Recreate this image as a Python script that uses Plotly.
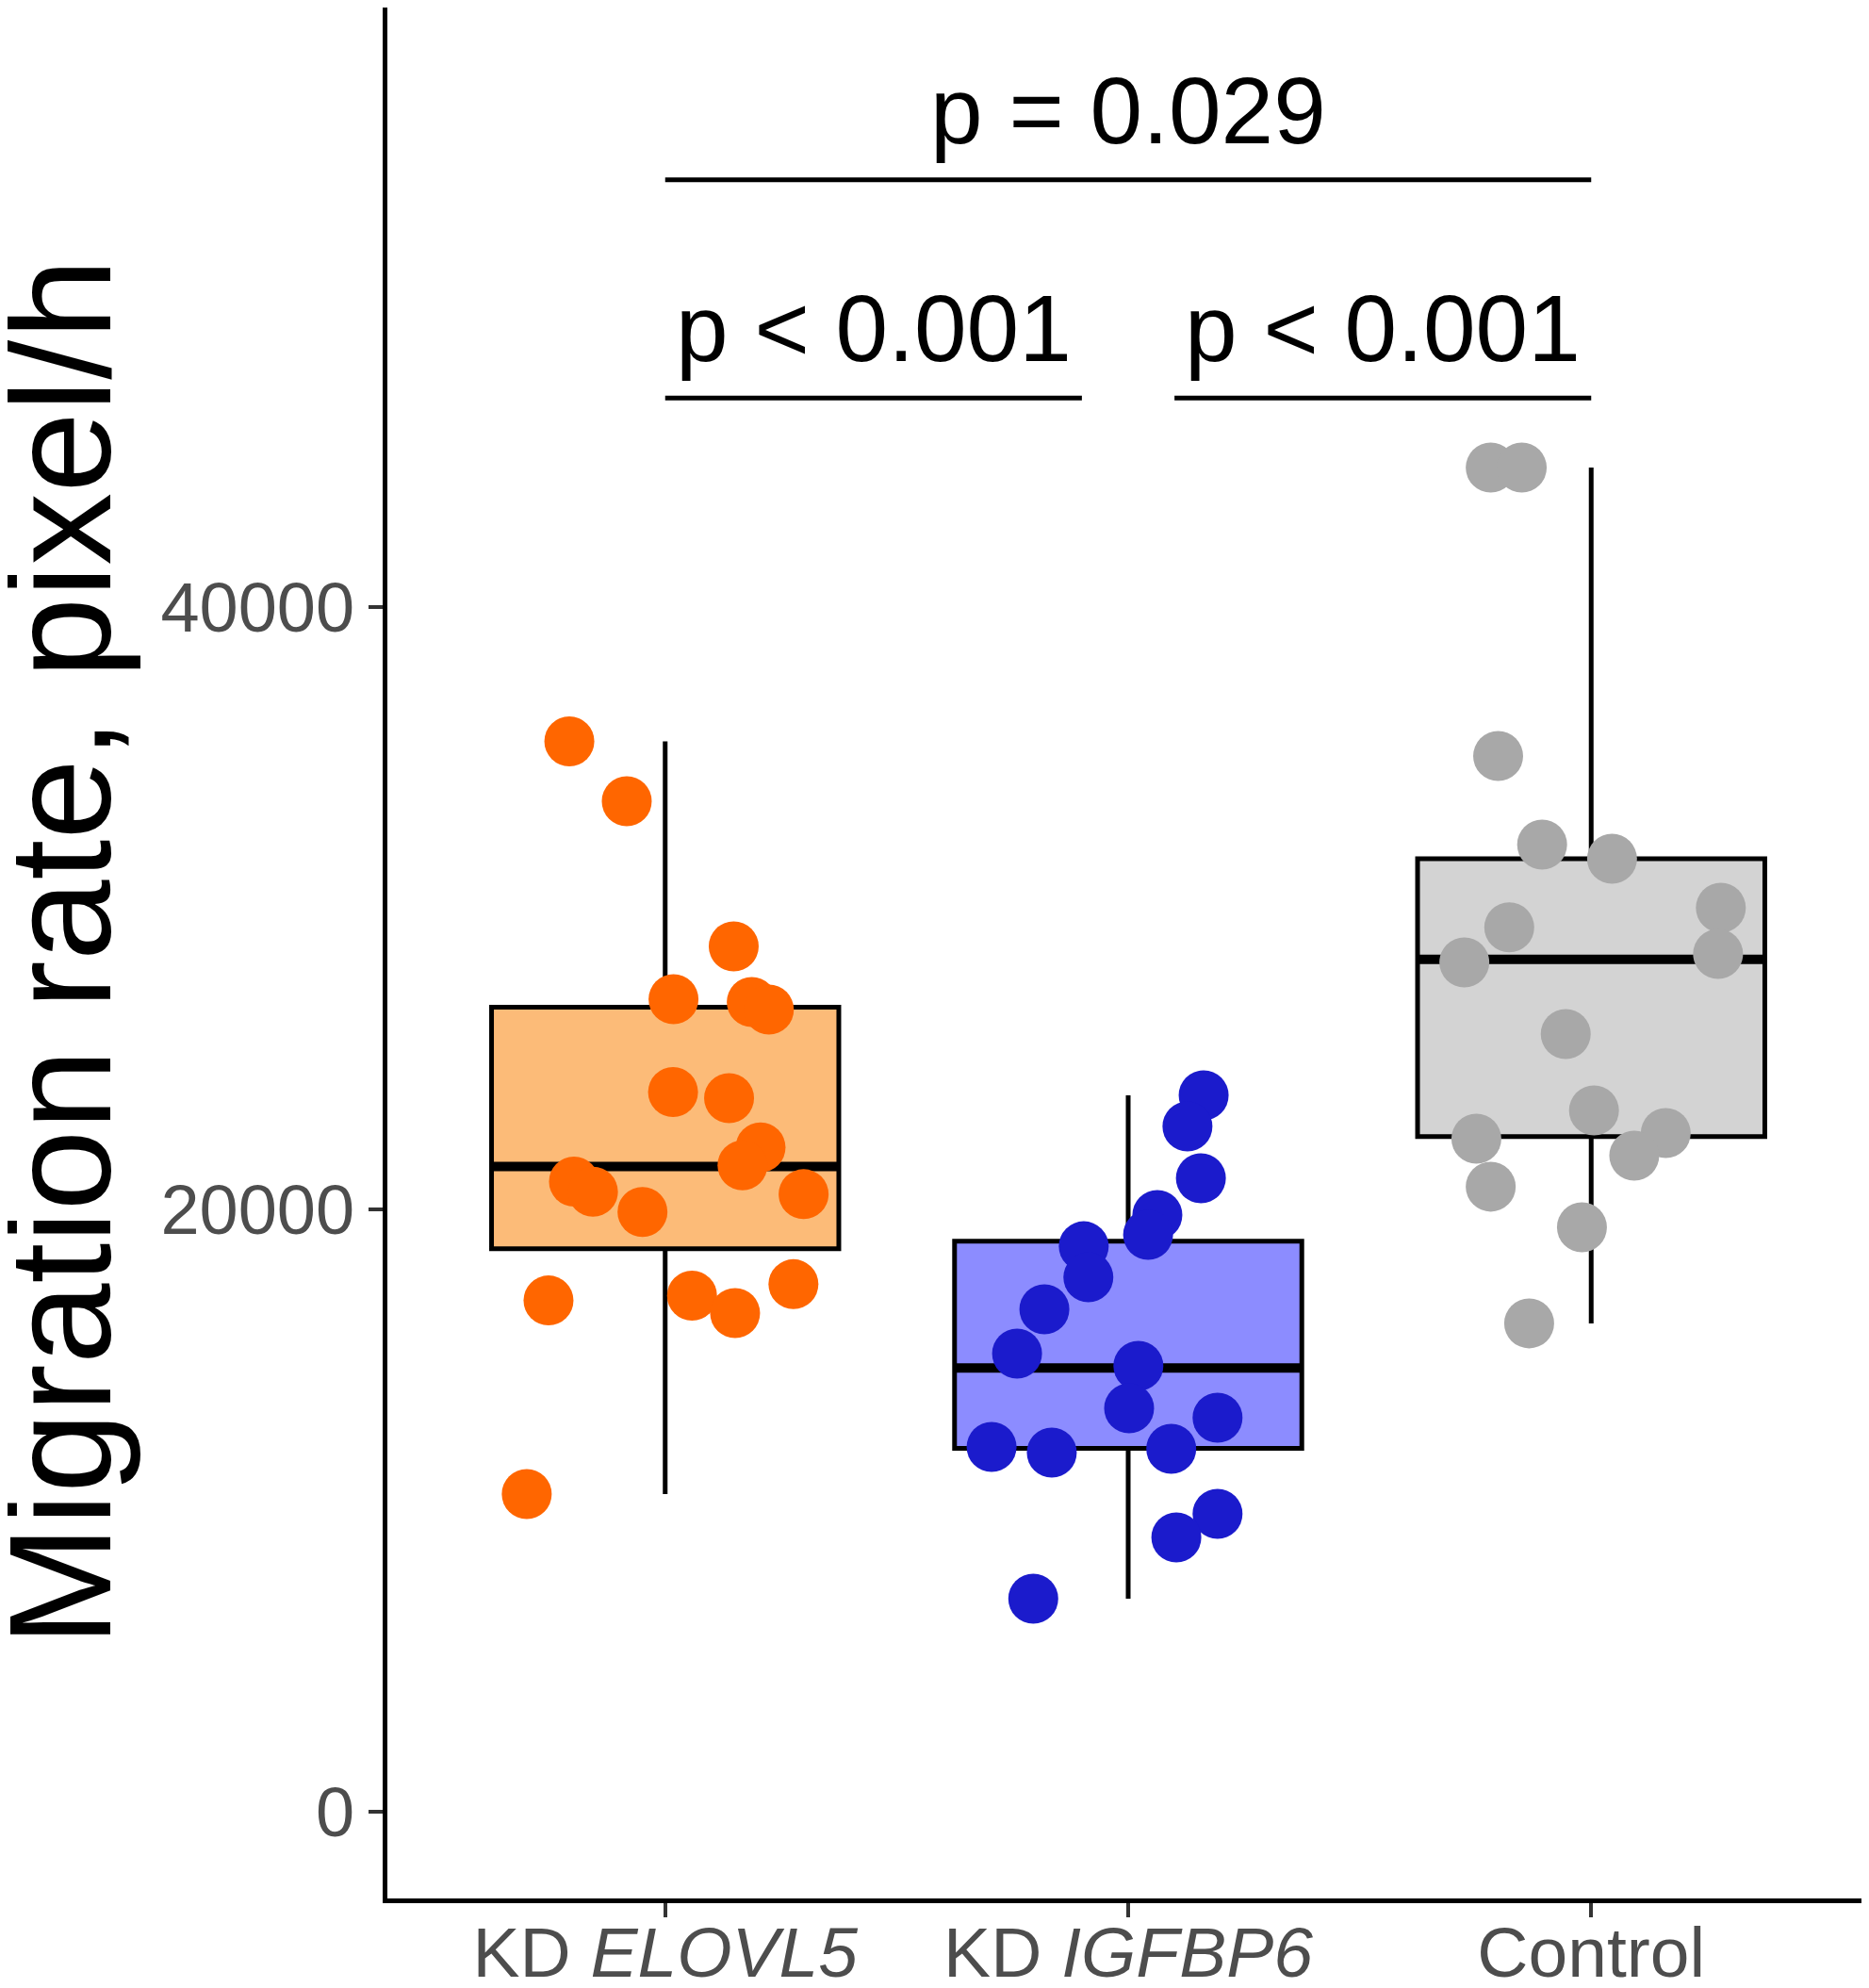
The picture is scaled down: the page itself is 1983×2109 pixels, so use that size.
import plotly.graph_objects as go

# 分组名称（x轴刻度标签）
groups = ["KD <i>ELOVL5</i>", "KD <i>IGFBP6</i>", "Control"]

# 各组散点数值及抖动偏移
elovl5_vals = [35550, 33560, 28740, 26985, 26890, 26640, 23900, 23700, 22060, 21470,
               20930, 20590, 19920, 20510, 16980, 17140, 16560, 17520, 10550]
elovl5_jit = [-0.207, -0.083, 0.148, 0.018, 0.187, 0.224, 0.017, 0.138, 0.206, 0.167,
              -0.197, -0.156, -0.049, 0.299, -0.252, 0.058, 0.151, 0.277, -0.299]

igfbp6_vals = [23793, 22760, 21040, 19817, 19160, 18780, 17750, 16686, 15215, 14808,
               13399, 13086, 12115, 11928, 12053, 9893, 9110, 7075]
igfbp6_jit = [0.163, 0.128, 0.157, 0.063, 0.043, -0.096, -0.086, -0.181, -0.240, 0.022,
              0.002, 0.193, -0.295, -0.165, 0.093, 0.193, 0.104, -0.205]

control_vals = [44640, 44640, 35060, 32120, 31650, 29370, 30020, 28210, 28490, 25830,
                23290, 22350, 22540, 21790, 20760, 19410, 16220]
control_jit = [-0.217, -0.150, -0.201, -0.106, 0.045, -0.177, 0.280, -0.274, 0.274, -0.055,
               0.006, -0.248, 0.161, 0.093, -0.217, -0.020, -0.134]

# 箱线图统计量
box_q1 = [18700, 12070, 22420]
box_median = [21430, 14740, 28310]
box_q3 = [26720, 18950, 31650]
box_low = [10550, 7075, 16220]
box_high = [35550, 23793, 44640]

# 显著性标注
sig_x0 = [0, 1.1, 0]
sig_x1 = [0.9, 2, 2]
sig_y = [46950, 46950, 54200]
sig_text = ["p < 0.001", "p < 0.001", "p = 0.029"]

point_colors = ["#FF6600", "#1B1BCC", "#A8A8A8"]
fill_colors = ["#FCBB78", "#8C8CFF", "#D3D3D3"]

FONT = "Liberation Sans, Arial, sans-serif"
BOX_W = 0.75

fig = go.Figure()

all_vals = [elovl5_vals, igfbp6_vals, control_vals]
all_jit = [elovl5_jit, igfbp6_jit, control_jit]

for i in range(3):
    # 箱体
    fig.add_trace(go.Box(
        x=[i], q1=[box_q1[i]], median=[box_median[i]], q3=[box_q3[i]],
        lowerfence=[box_low[i]], upperfence=[box_high[i]],
        width=BOX_W, whiskerwidth=0,
        fillcolor=fill_colors[i],
        line=dict(color="black", width=5),
        boxpoints=False, showlegend=False, hoverinfo="skip"
    ))
    # 加粗中位线
    fig.add_trace(go.Scatter(
        x=[i - BOX_W / 2, i + BOX_W / 2], y=[box_median[i], box_median[i]],
        mode="lines", line=dict(color="black", width=10),
        showlegend=False, hoverinfo="skip"
    ))

for i in range(3):
    # 抖动散点
    fig.add_trace(go.Scatter(
        x=[i + j for j in all_jit[i]], y=all_vals[i],
        mode="markers",
        marker=dict(color=point_colors[i], size=53, line=dict(width=0)),
        showlegend=False
    ))

# 显著性横线和文字
for k in range(len(sig_text)):
    fig.add_shape(type="line", xref="x", yref="y",
                  x0=sig_x0[k], x1=sig_x1[k], y0=sig_y[k], y1=sig_y[k],
                  line=dict(color="black", width=5))
    fig.add_annotation(x=(sig_x0[k] + sig_x1[k]) / 2, y=sig_y[k], xref="x", yref="y",
                       text=sig_text[k], showarrow=False, yanchor="bottom", yshift=16,
                       font=dict(family=FONT, size=100, color="black"))

# y轴标题
fig.add_annotation(x=-0.221, y=0.5, xref="paper", yref="paper",
                   text="Migration rate, pixel/h", textangle=-90, showarrow=False,
                   xanchor="center", yanchor="middle",
                   font=dict(family=FONT, size=154, color="black"))

fig.update_layout(
    width=1983, height=2109,
    margin=dict(l=403, r=8, t=0, b=103),
    paper_bgcolor="white", plot_bgcolor="white",
    boxmode="overlay",
    font=dict(family=FONT),
)

fig.update_xaxes(
    range=[-0.6, 2.6], tickvals=[0, 1, 2], ticktext=groups,
    showline=True, linecolor="black", linewidth=5,
    ticks="outside", ticklen=15, tickwidth=4, tickcolor="#333333",
    tickfont=dict(family=FONT, size=75, color="#4D4D4D"),
    ticklabelstandoff=-27,
    showgrid=False, zeroline=False, automargin=False
)
fig.update_yaxes(
    range=[-2880, 59920], tickvals=[0, 20000, 40000],
    ticktext=["0", "20000", "40000"],
    showline=True, linecolor="black", linewidth=5,
    ticks="outside", ticklen=15, tickwidth=4, tickcolor="#333333",
    tickfont=dict(family=FONT, size=74, color="#4D4D4D"),
    showgrid=False, zeroline=False, automargin=False
)

fig.write_html("out.html")
